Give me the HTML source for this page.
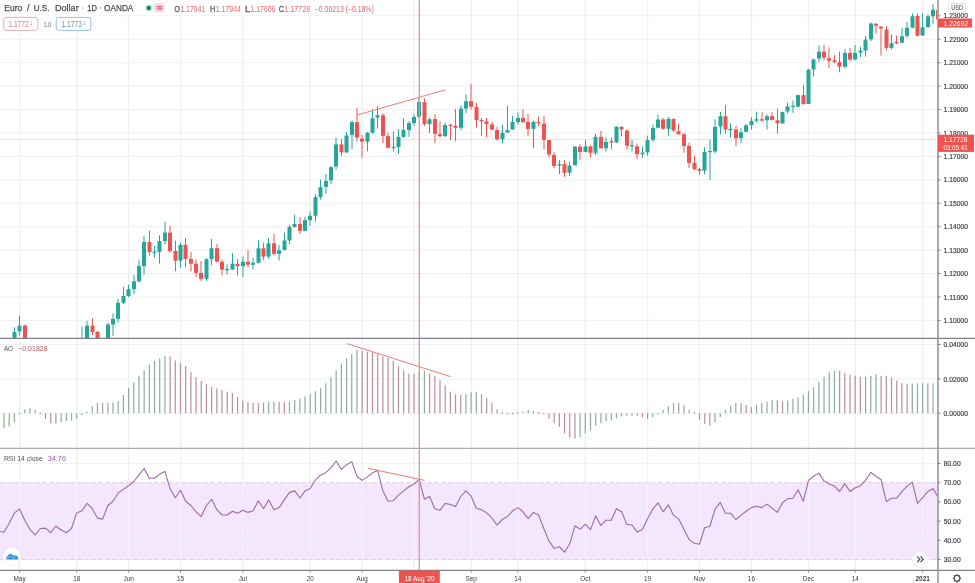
<!DOCTYPE html>
<html><head><meta charset="utf-8"><style>
html,body{margin:0;padding:0;background:#fff;width:975px;height:583px;overflow:hidden}
svg{display:block;font-family:"Liberation Sans",sans-serif;will-change:transform}
</style></head><body>
<svg width="975" height="583" viewBox="0 0 975 583">
<rect width="975" height="583" fill="#ffffff"/>
<defs><clipPath id="cm"><rect x="0" y="0" width="937" height="338"/></clipPath><clipPath id="ca"><rect x="0" y="339" width="937" height="109"/></clipPath><clipPath id="cr"><rect x="0" y="449" width="937" height="121"/></clipPath></defs><line x1="19.6" y1="0" x2="19.6" y2="338" stroke="#eff0f3" stroke-width="1.4"/><line x1="19.6" y1="339" x2="19.6" y2="448" stroke="#eff0f3" stroke-width="1.4"/><line x1="19.6" y1="449" x2="19.6" y2="570" stroke="#eff0f3" stroke-width="1.4"/><line x1="76.69" y1="0" x2="76.69" y2="338" stroke="#eff0f3" stroke-width="1.4"/><line x1="76.69" y1="339" x2="76.69" y2="448" stroke="#eff0f3" stroke-width="1.4"/><line x1="76.69" y1="449" x2="76.69" y2="570" stroke="#eff0f3" stroke-width="1.4"/><line x1="128.59" y1="0" x2="128.59" y2="338" stroke="#eff0f3" stroke-width="1.4"/><line x1="128.59" y1="339" x2="128.59" y2="448" stroke="#eff0f3" stroke-width="1.4"/><line x1="128.59" y1="449" x2="128.59" y2="570" stroke="#eff0f3" stroke-width="1.4"/><line x1="180.49" y1="0" x2="180.49" y2="338" stroke="#eff0f3" stroke-width="1.4"/><line x1="180.49" y1="339" x2="180.49" y2="448" stroke="#eff0f3" stroke-width="1.4"/><line x1="180.49" y1="449" x2="180.49" y2="570" stroke="#eff0f3" stroke-width="1.4"/><line x1="242.77" y1="0" x2="242.77" y2="338" stroke="#eff0f3" stroke-width="1.4"/><line x1="242.77" y1="339" x2="242.77" y2="448" stroke="#eff0f3" stroke-width="1.4"/><line x1="242.77" y1="449" x2="242.77" y2="570" stroke="#eff0f3" stroke-width="1.4"/><line x1="310.24" y1="0" x2="310.24" y2="338" stroke="#eff0f3" stroke-width="1.4"/><line x1="310.24" y1="339" x2="310.24" y2="448" stroke="#eff0f3" stroke-width="1.4"/><line x1="310.24" y1="449" x2="310.24" y2="570" stroke="#eff0f3" stroke-width="1.4"/><line x1="362.14" y1="0" x2="362.14" y2="338" stroke="#eff0f3" stroke-width="1.4"/><line x1="362.14" y1="339" x2="362.14" y2="448" stroke="#eff0f3" stroke-width="1.4"/><line x1="362.14" y1="449" x2="362.14" y2="570" stroke="#eff0f3" stroke-width="1.4"/><line x1="414.04" y1="0" x2="414.04" y2="338" stroke="#eff0f3" stroke-width="1.4"/><line x1="414.04" y1="339" x2="414.04" y2="448" stroke="#eff0f3" stroke-width="1.4"/><line x1="414.04" y1="449" x2="414.04" y2="570" stroke="#eff0f3" stroke-width="1.4"/><line x1="471.13" y1="0" x2="471.13" y2="338" stroke="#eff0f3" stroke-width="1.4"/><line x1="471.13" y1="339" x2="471.13" y2="448" stroke="#eff0f3" stroke-width="1.4"/><line x1="471.13" y1="449" x2="471.13" y2="570" stroke="#eff0f3" stroke-width="1.4"/><line x1="517.84" y1="0" x2="517.84" y2="338" stroke="#eff0f3" stroke-width="1.4"/><line x1="517.84" y1="339" x2="517.84" y2="448" stroke="#eff0f3" stroke-width="1.4"/><line x1="517.84" y1="449" x2="517.84" y2="570" stroke="#eff0f3" stroke-width="1.4"/><line x1="585.31" y1="0" x2="585.31" y2="338" stroke="#eff0f3" stroke-width="1.4"/><line x1="585.31" y1="339" x2="585.31" y2="448" stroke="#eff0f3" stroke-width="1.4"/><line x1="585.31" y1="449" x2="585.31" y2="570" stroke="#eff0f3" stroke-width="1.4"/><line x1="647.59" y1="0" x2="647.59" y2="338" stroke="#eff0f3" stroke-width="1.4"/><line x1="647.59" y1="339" x2="647.59" y2="448" stroke="#eff0f3" stroke-width="1.4"/><line x1="647.59" y1="449" x2="647.59" y2="570" stroke="#eff0f3" stroke-width="1.4"/><line x1="699.49" y1="0" x2="699.49" y2="338" stroke="#eff0f3" stroke-width="1.4"/><line x1="699.49" y1="339" x2="699.49" y2="448" stroke="#eff0f3" stroke-width="1.4"/><line x1="699.49" y1="449" x2="699.49" y2="570" stroke="#eff0f3" stroke-width="1.4"/><line x1="751.39" y1="0" x2="751.39" y2="338" stroke="#eff0f3" stroke-width="1.4"/><line x1="751.39" y1="339" x2="751.39" y2="448" stroke="#eff0f3" stroke-width="1.4"/><line x1="751.39" y1="449" x2="751.39" y2="570" stroke="#eff0f3" stroke-width="1.4"/><line x1="808.48" y1="0" x2="808.48" y2="338" stroke="#eff0f3" stroke-width="1.4"/><line x1="808.48" y1="339" x2="808.48" y2="448" stroke="#eff0f3" stroke-width="1.4"/><line x1="808.48" y1="449" x2="808.48" y2="570" stroke="#eff0f3" stroke-width="1.4"/><line x1="855.19" y1="0" x2="855.19" y2="338" stroke="#eff0f3" stroke-width="1.4"/><line x1="855.19" y1="339" x2="855.19" y2="448" stroke="#eff0f3" stroke-width="1.4"/><line x1="855.19" y1="449" x2="855.19" y2="570" stroke="#eff0f3" stroke-width="1.4"/><line x1="922.66" y1="0" x2="922.66" y2="338" stroke="#eff0f3" stroke-width="1.4"/><line x1="922.66" y1="339" x2="922.66" y2="448" stroke="#eff0f3" stroke-width="1.4"/><line x1="922.66" y1="449" x2="922.66" y2="570" stroke="#eff0f3" stroke-width="1.4"/><line x1="0" y1="320.39" x2="937.5" y2="320.39" stroke="#eff0f3" stroke-width="1"/><line x1="0" y1="296.96" x2="937.5" y2="296.96" stroke="#eff0f3" stroke-width="1"/><line x1="0" y1="273.53" x2="937.5" y2="273.53" stroke="#eff0f3" stroke-width="1"/><line x1="0" y1="250.1" x2="937.5" y2="250.1" stroke="#eff0f3" stroke-width="1"/><line x1="0" y1="226.67" x2="937.5" y2="226.67" stroke="#eff0f3" stroke-width="1"/><line x1="0" y1="203.24" x2="937.5" y2="203.24" stroke="#eff0f3" stroke-width="1"/><line x1="0" y1="179.81" x2="937.5" y2="179.81" stroke="#eff0f3" stroke-width="1"/><line x1="0" y1="156.38" x2="937.5" y2="156.38" stroke="#eff0f3" stroke-width="1"/><line x1="0" y1="132.95" x2="937.5" y2="132.95" stroke="#eff0f3" stroke-width="1"/><line x1="0" y1="109.52" x2="937.5" y2="109.52" stroke="#eff0f3" stroke-width="1"/><line x1="0" y1="86.09" x2="937.5" y2="86.09" stroke="#eff0f3" stroke-width="1"/><line x1="0" y1="62.66" x2="937.5" y2="62.66" stroke="#eff0f3" stroke-width="1"/><line x1="0" y1="39.23" x2="937.5" y2="39.23" stroke="#eff0f3" stroke-width="1"/><line x1="0" y1="15.8" x2="937.5" y2="15.8" stroke="#eff0f3" stroke-width="1"/><line x1="0" y1="344.5" x2="937.5" y2="344.5" stroke="#eff0f3" stroke-width="1"/><line x1="0" y1="378.9" x2="937.5" y2="378.9" stroke="#eff0f3" stroke-width="1"/><line x1="0" y1="413.3" x2="937.5" y2="413.3" stroke="#eff0f3" stroke-width="1"/><rect x="0" y="482.7" width="937.5" height="76.8" fill="#f4e6fc"/><line x1="19.6" y1="482.7" x2="19.6" y2="559.5" stroke="#ffffff" stroke-width="1.2" opacity="0.45"/><line x1="76.69" y1="482.7" x2="76.69" y2="559.5" stroke="#ffffff" stroke-width="1.2" opacity="0.45"/><line x1="128.59" y1="482.7" x2="128.59" y2="559.5" stroke="#ffffff" stroke-width="1.2" opacity="0.45"/><line x1="180.49" y1="482.7" x2="180.49" y2="559.5" stroke="#ffffff" stroke-width="1.2" opacity="0.45"/><line x1="242.77" y1="482.7" x2="242.77" y2="559.5" stroke="#ffffff" stroke-width="1.2" opacity="0.45"/><line x1="310.24" y1="482.7" x2="310.24" y2="559.5" stroke="#ffffff" stroke-width="1.2" opacity="0.45"/><line x1="362.14" y1="482.7" x2="362.14" y2="559.5" stroke="#ffffff" stroke-width="1.2" opacity="0.45"/><line x1="414.04" y1="482.7" x2="414.04" y2="559.5" stroke="#ffffff" stroke-width="1.2" opacity="0.45"/><line x1="471.13" y1="482.7" x2="471.13" y2="559.5" stroke="#ffffff" stroke-width="1.2" opacity="0.45"/><line x1="517.84" y1="482.7" x2="517.84" y2="559.5" stroke="#ffffff" stroke-width="1.2" opacity="0.45"/><line x1="585.31" y1="482.7" x2="585.31" y2="559.5" stroke="#ffffff" stroke-width="1.2" opacity="0.45"/><line x1="647.59" y1="482.7" x2="647.59" y2="559.5" stroke="#ffffff" stroke-width="1.2" opacity="0.45"/><line x1="699.49" y1="482.7" x2="699.49" y2="559.5" stroke="#ffffff" stroke-width="1.2" opacity="0.45"/><line x1="751.39" y1="482.7" x2="751.39" y2="559.5" stroke="#ffffff" stroke-width="1.2" opacity="0.45"/><line x1="808.48" y1="482.7" x2="808.48" y2="559.5" stroke="#ffffff" stroke-width="1.2" opacity="0.45"/><line x1="855.19" y1="482.7" x2="855.19" y2="559.5" stroke="#ffffff" stroke-width="1.2" opacity="0.45"/><line x1="922.66" y1="482.7" x2="922.66" y2="559.5" stroke="#ffffff" stroke-width="1.2" opacity="0.45"/><line x1="0" y1="463.5" x2="937.5" y2="463.5" stroke="#eff0f3" stroke-width="1" opacity="0.8"/><line x1="0" y1="501.9" x2="937.5" y2="501.9" stroke="#eff0f3" stroke-width="1" opacity="0.8"/><line x1="0" y1="521.1" x2="937.5" y2="521.1" stroke="#eff0f3" stroke-width="1" opacity="0.8"/><line x1="0" y1="540.3" x2="937.5" y2="540.3" stroke="#eff0f3" stroke-width="1" opacity="0.8"/><line x1="0" y1="482.7" x2="937.5" y2="482.7" stroke="#ddcde3" stroke-width="0.9" stroke-dasharray="5 2"/><line x1="0" y1="559.5" x2="937.5" y2="559.5" stroke="#ddcde3" stroke-width="0.9" stroke-dasharray="5 2"/><line x1="0" y1="139.4" x2="937" y2="139.4" stroke="#f9dcdb" stroke-width="1"/><g clip-path="url(#cm)"><line x1="14.5" y1="327.3" x2="14.5" y2="340" stroke="#26a69a" stroke-width="1"/><rect x="12.5" y="332" width="4" height="8" fill="#26a69a"/><line x1="19.5" y1="315.6" x2="19.5" y2="335.5" stroke="#26a69a" stroke-width="1"/><rect x="17.5" y="325.6" width="4" height="5.8" fill="#26a69a"/><line x1="25" y1="324.5" x2="25" y2="340" stroke="#ef5350" stroke-width="1"/><rect x="23" y="325.6" width="4" height="14.4" fill="#ef5350"/><line x1="82" y1="326.6" x2="82" y2="340" stroke="#26a69a" stroke-width="1"/><rect x="80" y="340" width="4" height="1.2" fill="#26a69a"/><line x1="87" y1="321" x2="87" y2="340" stroke="#26a69a" stroke-width="1"/><rect x="85" y="325.6" width="4" height="14.4" fill="#26a69a"/><line x1="92.5" y1="318.3" x2="92.5" y2="335" stroke="#ef5350" stroke-width="1"/><rect x="90.5" y="325.6" width="4" height="6.4" fill="#ef5350"/><line x1="97.5" y1="331" x2="97.5" y2="340" stroke="#ef5350" stroke-width="1"/><rect x="95.5" y="332" width="4" height="8" fill="#ef5350"/><line x1="108" y1="322.5" x2="108" y2="340" stroke="#26a69a" stroke-width="1"/><rect x="106" y="324.5" width="4" height="15.5" fill="#26a69a"/><line x1="113" y1="313.5" x2="113" y2="336" stroke="#26a69a" stroke-width="1"/><rect x="111" y="318.8" width="4" height="5.7" fill="#26a69a"/><line x1="118" y1="299" x2="118" y2="322.5" stroke="#26a69a" stroke-width="1"/><rect x="116" y="302.8" width="4" height="16" fill="#26a69a"/><line x1="123.5" y1="286.8" x2="123.5" y2="304" stroke="#26a69a" stroke-width="1"/><rect x="121.5" y="296" width="4" height="6.8" fill="#26a69a"/><line x1="128.5" y1="284.7" x2="128.5" y2="297" stroke="#26a69a" stroke-width="1"/><rect x="126.5" y="289.2" width="4" height="6.8" fill="#26a69a"/><line x1="134" y1="275" x2="134" y2="294" stroke="#26a69a" stroke-width="1"/><rect x="132" y="281.3" width="4" height="7.8" fill="#26a69a"/><line x1="139" y1="259.6" x2="139" y2="282.3" stroke="#26a69a" stroke-width="1"/><rect x="137" y="266.1" width="4" height="15.2" fill="#26a69a"/><line x1="144" y1="235.9" x2="144" y2="275" stroke="#26a69a" stroke-width="1"/><rect x="142" y="242" width="4" height="24.1" fill="#26a69a"/><line x1="149.5" y1="230.8" x2="149.5" y2="255.5" stroke="#ef5350" stroke-width="1"/><rect x="147.5" y="242" width="4" height="10" fill="#ef5350"/><line x1="154.5" y1="245.9" x2="154.5" y2="257.6" stroke="#26a69a" stroke-width="1"/><rect x="152.5" y="251.5" width="4" height="1.2" fill="#26a69a"/><line x1="159.5" y1="235.3" x2="159.5" y2="263.7" stroke="#26a69a" stroke-width="1"/><rect x="157.5" y="241.1" width="4" height="10.7" fill="#26a69a"/><line x1="165" y1="221.9" x2="165" y2="244.5" stroke="#26a69a" stroke-width="1"/><rect x="163" y="232.6" width="4" height="8.5" fill="#26a69a"/><line x1="170" y1="226" x2="170" y2="252.7" stroke="#ef5350" stroke-width="1"/><rect x="168" y="232.6" width="4" height="18.4" fill="#ef5350"/><line x1="175.5" y1="240.8" x2="175.5" y2="271.3" stroke="#ef5350" stroke-width="1"/><rect x="173.5" y="251" width="4" height="9.7" fill="#ef5350"/><line x1="180.5" y1="242.5" x2="180.5" y2="267.8" stroke="#26a69a" stroke-width="1"/><rect x="178.5" y="244.9" width="4" height="15.8" fill="#26a69a"/><line x1="185.5" y1="238" x2="185.5" y2="267.2" stroke="#ef5350" stroke-width="1"/><rect x="183.5" y="244.9" width="4" height="14" fill="#ef5350"/><line x1="191" y1="251.8" x2="191" y2="271.3" stroke="#ef5350" stroke-width="1"/><rect x="189" y="258.9" width="4" height="4.8" fill="#ef5350"/><line x1="196" y1="259.6" x2="196" y2="276.8" stroke="#ef5350" stroke-width="1"/><rect x="194" y="263.7" width="4" height="9.2" fill="#ef5350"/><line x1="201" y1="261" x2="201" y2="280.9" stroke="#ef5350" stroke-width="1"/><rect x="199" y="272.9" width="4" height="5.9" fill="#ef5350"/><line x1="206.5" y1="258.2" x2="206.5" y2="280.9" stroke="#26a69a" stroke-width="1"/><rect x="204.5" y="259.2" width="4" height="19.6" fill="#26a69a"/><line x1="211.5" y1="239" x2="211.5" y2="265.1" stroke="#26a69a" stroke-width="1"/><rect x="209.5" y="248.2" width="4" height="11" fill="#26a69a"/><line x1="217" y1="243.8" x2="217" y2="262.4" stroke="#ef5350" stroke-width="1"/><rect x="215" y="248.2" width="4" height="13.5" fill="#ef5350"/><line x1="222" y1="259.6" x2="222" y2="275.4" stroke="#ef5350" stroke-width="1"/><rect x="220" y="261.7" width="4" height="7.9" fill="#ef5350"/><line x1="227" y1="264.4" x2="227" y2="274.7" stroke="#26a69a" stroke-width="1"/><rect x="225" y="269.1" width="4" height="1.2" fill="#26a69a"/><line x1="232.5" y1="253.2" x2="232.5" y2="269.9" stroke="#26a69a" stroke-width="1"/><rect x="230.5" y="263.7" width="4" height="5.9" fill="#26a69a"/><line x1="237.5" y1="259.2" x2="237.5" y2="275.4" stroke="#ef5350" stroke-width="1"/><rect x="235.5" y="263.7" width="4" height="2.4" fill="#ef5350"/><line x1="243" y1="256.4" x2="243" y2="276.8" stroke="#26a69a" stroke-width="1"/><rect x="241" y="261.7" width="4" height="4.4" fill="#26a69a"/><line x1="248" y1="249.8" x2="248" y2="267.4" stroke="#ef5350" stroke-width="1"/><rect x="246" y="261.9" width="4" height="2.7" fill="#ef5350"/><line x1="253" y1="258" x2="253" y2="269.6" stroke="#26a69a" stroke-width="1"/><rect x="251" y="262.8" width="4" height="2" fill="#26a69a"/><line x1="258.5" y1="240.1" x2="258.5" y2="263.4" stroke="#26a69a" stroke-width="1"/><rect x="256.5" y="248.3" width="4" height="14.5" fill="#26a69a"/><line x1="263.5" y1="242.8" x2="263.5" y2="260" stroke="#ef5350" stroke-width="1"/><rect x="261.5" y="248.3" width="4" height="8.3" fill="#ef5350"/><line x1="268.5" y1="238" x2="268.5" y2="258.6" stroke="#26a69a" stroke-width="1"/><rect x="266.5" y="243.3" width="4" height="13.3" fill="#26a69a"/><line x1="274" y1="233.7" x2="274" y2="255.2" stroke="#ef5350" stroke-width="1"/><rect x="272" y="243.3" width="4" height="10.5" fill="#ef5350"/><line x1="279" y1="244.9" x2="279" y2="260.7" stroke="#26a69a" stroke-width="1"/><rect x="277" y="250.4" width="4" height="3.4" fill="#26a69a"/><line x1="284.5" y1="232.6" x2="284.5" y2="250.4" stroke="#26a69a" stroke-width="1"/><rect x="282.5" y="240.5" width="4" height="9.5" fill="#26a69a"/><line x1="289.5" y1="225" x2="289.5" y2="244.2" stroke="#26a69a" stroke-width="1"/><rect x="287.5" y="227.1" width="4" height="13.4" fill="#26a69a"/><line x1="294.5" y1="214.7" x2="294.5" y2="227.7" stroke="#26a69a" stroke-width="1"/><rect x="292.5" y="224" width="4" height="2.8" fill="#26a69a"/><line x1="300" y1="217.2" x2="300" y2="233.9" stroke="#ef5350" stroke-width="1"/><rect x="298" y="224" width="4" height="6.9" fill="#ef5350"/><line x1="305" y1="216.8" x2="305" y2="231.2" stroke="#26a69a" stroke-width="1"/><rect x="303" y="220.2" width="4" height="10.7" fill="#26a69a"/><line x1="310" y1="211.3" x2="310" y2="226" stroke="#26a69a" stroke-width="1"/><rect x="308" y="215.8" width="4" height="4.4" fill="#26a69a"/><line x1="315.5" y1="194.1" x2="315.5" y2="221.6" stroke="#26a69a" stroke-width="1"/><rect x="313.5" y="197.1" width="4" height="18.7" fill="#26a69a"/><line x1="320.5" y1="179.6" x2="320.5" y2="199.7" stroke="#26a69a" stroke-width="1"/><rect x="318.5" y="187.3" width="4" height="9.9" fill="#26a69a"/><line x1="326" y1="174" x2="326" y2="193.7" stroke="#26a69a" stroke-width="1"/><rect x="324" y="181" width="4" height="5.9" fill="#26a69a"/><line x1="331" y1="166" x2="331" y2="184.3" stroke="#26a69a" stroke-width="1"/><rect x="329" y="167.2" width="4" height="13.2" fill="#26a69a"/><line x1="336" y1="137.6" x2="336" y2="169.8" stroke="#26a69a" stroke-width="1"/><rect x="334" y="144.4" width="4" height="22" fill="#26a69a"/><line x1="341.5" y1="139.2" x2="341.5" y2="156.1" stroke="#ef5350" stroke-width="1"/><rect x="339.5" y="144.4" width="4" height="8" fill="#ef5350"/><line x1="346.5" y1="132.1" x2="346.5" y2="152.7" stroke="#26a69a" stroke-width="1"/><rect x="344.5" y="135.5" width="4" height="16.9" fill="#26a69a"/><line x1="352" y1="120.4" x2="352" y2="149.2" stroke="#26a69a" stroke-width="1"/><rect x="350" y="122.2" width="4" height="12.6" fill="#26a69a"/><line x1="357" y1="108" x2="357" y2="141.7" stroke="#ef5350" stroke-width="1"/><rect x="355" y="122.2" width="4" height="15.4" fill="#ef5350"/><line x1="362" y1="134.8" x2="362" y2="157.5" stroke="#ef5350" stroke-width="1"/><rect x="360" y="138.7" width="4" height="3" fill="#ef5350"/><line x1="367.5" y1="132.1" x2="367.5" y2="151.3" stroke="#26a69a" stroke-width="1"/><rect x="365.5" y="132.7" width="4" height="9" fill="#26a69a"/><line x1="372.5" y1="109.4" x2="372.5" y2="134.1" stroke="#26a69a" stroke-width="1"/><rect x="370.5" y="118.3" width="4" height="14.4" fill="#26a69a"/><line x1="377.5" y1="106" x2="377.5" y2="128.6" stroke="#26a69a" stroke-width="1"/><rect x="375.5" y="115.3" width="4" height="2.3" fill="#26a69a"/><line x1="383" y1="113.5" x2="383" y2="143" stroke="#ef5350" stroke-width="1"/><rect x="381" y="115.3" width="4" height="20.6" fill="#ef5350"/><line x1="388" y1="132.7" x2="388" y2="147.8" stroke="#ef5350" stroke-width="1"/><rect x="386" y="136.2" width="4" height="11.6" fill="#ef5350"/><line x1="393.5" y1="131.4" x2="393.5" y2="151.3" stroke="#26a69a" stroke-width="1"/><rect x="391.5" y="146.9" width="4" height="1.2" fill="#26a69a"/><line x1="398.5" y1="129.3" x2="398.5" y2="153.8" stroke="#26a69a" stroke-width="1"/><rect x="396.5" y="136.9" width="4" height="10" fill="#26a69a"/><line x1="403.5" y1="118.3" x2="403.5" y2="137.6" stroke="#26a69a" stroke-width="1"/><rect x="401.5" y="130" width="4" height="6.9" fill="#26a69a"/><line x1="409" y1="121.1" x2="409" y2="136.9" stroke="#26a69a" stroke-width="1"/><rect x="407" y="123.1" width="4" height="6.9" fill="#26a69a"/><line x1="414" y1="114.2" x2="414" y2="125.9" stroke="#26a69a" stroke-width="1"/><rect x="412" y="117" width="4" height="6.1" fill="#26a69a"/><line x1="419" y1="97.1" x2="419" y2="118" stroke="#26a69a" stroke-width="1"/><rect x="417" y="102.1" width="4" height="14.6" fill="#26a69a"/><line x1="424.5" y1="98.4" x2="424.5" y2="125.9" stroke="#ef5350" stroke-width="1"/><rect x="422.5" y="102.1" width="4" height="22" fill="#ef5350"/><line x1="429.5" y1="117.7" x2="429.5" y2="133" stroke="#26a69a" stroke-width="1"/><rect x="427.5" y="119.3" width="4" height="4.8" fill="#26a69a"/><line x1="435" y1="114.1" x2="435" y2="143.3" stroke="#ef5350" stroke-width="1"/><rect x="433" y="119" width="4" height="14.7" fill="#ef5350"/><line x1="440" y1="121.4" x2="440" y2="137.8" stroke="#ef5350" stroke-width="1"/><rect x="438" y="134.1" width="4" height="2" fill="#ef5350"/><line x1="445" y1="122.7" x2="445" y2="137.2" stroke="#26a69a" stroke-width="1"/><rect x="443" y="125.1" width="4" height="11" fill="#26a69a"/><line x1="450.5" y1="124.1" x2="450.5" y2="139.9" stroke="#ef5350" stroke-width="1"/><rect x="448.5" y="124.7" width="4" height="1.2" fill="#ef5350"/><line x1="455.5" y1="109" x2="455.5" y2="141.3" stroke="#ef5350" stroke-width="1"/><rect x="453.5" y="125.9" width="4" height="1.9" fill="#ef5350"/><line x1="461" y1="105.3" x2="461" y2="130.3" stroke="#26a69a" stroke-width="1"/><rect x="459" y="108.6" width="4" height="19.2" fill="#26a69a"/><line x1="466" y1="94.3" x2="466" y2="113.1" stroke="#26a69a" stroke-width="1"/><rect x="464" y="101.2" width="4" height="7.4" fill="#26a69a"/><line x1="471" y1="84" x2="471" y2="109.4" stroke="#ef5350" stroke-width="1"/><rect x="469" y="101.2" width="4" height="5.5" fill="#ef5350"/><line x1="476.5" y1="102.8" x2="476.5" y2="127.6" stroke="#ef5350" stroke-width="1"/><rect x="474.5" y="107" width="4" height="13" fill="#ef5350"/><line x1="481.5" y1="118" x2="481.5" y2="135.8" stroke="#ef5350" stroke-width="1"/><rect x="479.5" y="120" width="4" height="1.2" fill="#ef5350"/><line x1="486.5" y1="118" x2="486.5" y2="137.2" stroke="#ef5350" stroke-width="1"/><rect x="484.5" y="121.4" width="4" height="2.7" fill="#ef5350"/><line x1="492" y1="122" x2="492" y2="130.3" stroke="#ef5350" stroke-width="1"/><rect x="490" y="124.5" width="4" height="5.1" fill="#ef5350"/><line x1="497" y1="126.9" x2="497" y2="140.6" stroke="#ef5350" stroke-width="1"/><rect x="495" y="130" width="4" height="9.2" fill="#ef5350"/><line x1="502.5" y1="124.8" x2="502.5" y2="143.3" stroke="#26a69a" stroke-width="1"/><rect x="500.5" y="132.8" width="4" height="6.4" fill="#26a69a"/><line x1="507.5" y1="105.6" x2="507.5" y2="133" stroke="#26a69a" stroke-width="1"/><rect x="505.5" y="130" width="4" height="2.4" fill="#26a69a"/><line x1="512.5" y1="115.9" x2="512.5" y2="129.6" stroke="#26a69a" stroke-width="1"/><rect x="510.5" y="122" width="4" height="7.6" fill="#26a69a"/><line x1="518" y1="112.5" x2="518" y2="124.8" stroke="#26a69a" stroke-width="1"/><rect x="516" y="117.9" width="4" height="4.1" fill="#26a69a"/><line x1="523" y1="109" x2="523" y2="123.4" stroke="#ef5350" stroke-width="1"/><rect x="521" y="117.9" width="4" height="4.1" fill="#ef5350"/><line x1="528" y1="113.8" x2="528" y2="135.8" stroke="#ef5350" stroke-width="1"/><rect x="526" y="122" width="4" height="6.9" fill="#ef5350"/><line x1="533.5" y1="121" x2="533.5" y2="148.1" stroke="#26a69a" stroke-width="1"/><rect x="531.5" y="121.8" width="4" height="7.1" fill="#26a69a"/><line x1="538.5" y1="116.6" x2="538.5" y2="126.2" stroke="#ef5350" stroke-width="1"/><rect x="536.5" y="121.8" width="4" height="1.4" fill="#ef5350"/><line x1="544" y1="115.9" x2="544" y2="149.5" stroke="#ef5350" stroke-width="1"/><rect x="542" y="123.7" width="4" height="16.2" fill="#ef5350"/><line x1="549" y1="139.9" x2="549" y2="157.7" stroke="#ef5350" stroke-width="1"/><rect x="547" y="140.1" width="4" height="14.5" fill="#ef5350"/><line x1="554" y1="152.2" x2="554" y2="167.9" stroke="#ef5350" stroke-width="1"/><rect x="552" y="154.9" width="4" height="11" fill="#ef5350"/><line x1="559.5" y1="160.1" x2="559.5" y2="174.1" stroke="#26a69a" stroke-width="1"/><rect x="557.5" y="164.2" width="4" height="1.4" fill="#26a69a"/><line x1="564.5" y1="160.4" x2="564.5" y2="176.9" stroke="#ef5350" stroke-width="1"/><rect x="562.5" y="164.2" width="4" height="8.6" fill="#ef5350"/><line x1="569.5" y1="161.5" x2="569.5" y2="176.2" stroke="#26a69a" stroke-width="1"/><rect x="567.5" y="165.6" width="4" height="7.2" fill="#26a69a"/><line x1="575" y1="146" x2="575" y2="165.6" stroke="#26a69a" stroke-width="1"/><rect x="573" y="146.7" width="4" height="18.5" fill="#26a69a"/><line x1="580" y1="144.2" x2="580" y2="159.7" stroke="#ef5350" stroke-width="1"/><rect x="578" y="146.7" width="4" height="5.2" fill="#ef5350"/><line x1="585.5" y1="139.8" x2="585.5" y2="152.2" stroke="#26a69a" stroke-width="1"/><rect x="583.5" y="146.4" width="4" height="5.5" fill="#26a69a"/><line x1="590.5" y1="145.3" x2="590.5" y2="157.4" stroke="#ef5350" stroke-width="1"/><rect x="588.5" y="146.4" width="4" height="6.4" fill="#ef5350"/><line x1="595.5" y1="134" x2="595.5" y2="154.9" stroke="#26a69a" stroke-width="1"/><rect x="593.5" y="136.8" width="4" height="16" fill="#26a69a"/><line x1="601" y1="130.9" x2="601" y2="148.3" stroke="#ef5350" stroke-width="1"/><rect x="599" y="136.8" width="4" height="11.5" fill="#ef5350"/><line x1="606" y1="137.3" x2="606" y2="151.5" stroke="#26a69a" stroke-width="1"/><rect x="604" y="141.9" width="4" height="6.4" fill="#26a69a"/><line x1="611.5" y1="137.7" x2="611.5" y2="149.4" stroke="#ef5350" stroke-width="1"/><rect x="609.5" y="141.2" width="4" height="1.4" fill="#ef5350"/><line x1="616.5" y1="126.1" x2="616.5" y2="143.2" stroke="#26a69a" stroke-width="1"/><rect x="614.5" y="126.8" width="4" height="15.5" fill="#26a69a"/><line x1="621.5" y1="126.1" x2="621.5" y2="136.4" stroke="#ef5350" stroke-width="1"/><rect x="619.5" y="126.8" width="4" height="2.7" fill="#ef5350"/><line x1="627" y1="129.5" x2="627" y2="149.4" stroke="#ef5350" stroke-width="1"/><rect x="625" y="130.5" width="4" height="15.1" fill="#ef5350"/><line x1="632" y1="139.8" x2="632" y2="151.5" stroke="#26a69a" stroke-width="1"/><rect x="630" y="145.1" width="4" height="1.2" fill="#26a69a"/><line x1="637" y1="143.7" x2="637" y2="159.3" stroke="#ef5350" stroke-width="1"/><rect x="635" y="146.4" width="4" height="7.8" fill="#ef5350"/><line x1="642.5" y1="146.4" x2="642.5" y2="157.7" stroke="#26a69a" stroke-width="1"/><rect x="640.5" y="152.6" width="4" height="1.6" fill="#26a69a"/><line x1="647.5" y1="135.7" x2="647.5" y2="155.6" stroke="#26a69a" stroke-width="1"/><rect x="645.5" y="140.1" width="4" height="12.3" fill="#26a69a"/><line x1="653" y1="124.4" x2="653" y2="141.9" stroke="#26a69a" stroke-width="1"/><rect x="651" y="128.1" width="4" height="11.7" fill="#26a69a"/><line x1="658" y1="114.4" x2="658" y2="128.1" stroke="#26a69a" stroke-width="1"/><rect x="656" y="119.5" width="4" height="8.2" fill="#26a69a"/><line x1="663" y1="117.8" x2="663" y2="129.9" stroke="#ef5350" stroke-width="1"/><rect x="661" y="119.5" width="4" height="9.3" fill="#ef5350"/><line x1="668.5" y1="117" x2="668.5" y2="136.2" stroke="#26a69a" stroke-width="1"/><rect x="666.5" y="118.9" width="4" height="9.9" fill="#26a69a"/><line x1="673.5" y1="118.5" x2="673.5" y2="131.8" stroke="#ef5350" stroke-width="1"/><rect x="671.5" y="118.9" width="4" height="11.6" fill="#ef5350"/><line x1="678.5" y1="124" x2="678.5" y2="134.6" stroke="#ef5350" stroke-width="1"/><rect x="676.5" y="131.3" width="4" height="3" fill="#ef5350"/><line x1="684" y1="133" x2="684" y2="152.8" stroke="#ef5350" stroke-width="1"/><rect x="682" y="134.3" width="4" height="11.7" fill="#ef5350"/><line x1="689" y1="142.6" x2="689" y2="167.9" stroke="#ef5350" stroke-width="1"/><rect x="687" y="146" width="4" height="16.9" fill="#ef5350"/><line x1="694.5" y1="155.6" x2="694.5" y2="170.3" stroke="#ef5350" stroke-width="1"/><rect x="692.5" y="162.9" width="4" height="6.4" fill="#ef5350"/><line x1="699.5" y1="168" x2="699.5" y2="174.8" stroke="#ef5350" stroke-width="1"/><rect x="697.5" y="169" width="4" height="1.7" fill="#ef5350"/><line x1="704.5" y1="147.4" x2="704.5" y2="174.1" stroke="#26a69a" stroke-width="1"/><rect x="702.5" y="151.9" width="4" height="18.8" fill="#26a69a"/><line x1="710" y1="139.5" x2="710" y2="180" stroke="#26a69a" stroke-width="1"/><rect x="708" y="151" width="4" height="1.2" fill="#26a69a"/><line x1="715" y1="119.2" x2="715" y2="153.8" stroke="#26a69a" stroke-width="1"/><rect x="713" y="126.8" width="4" height="24.7" fill="#26a69a"/><line x1="720.5" y1="112.1" x2="720.5" y2="134.3" stroke="#26a69a" stroke-width="1"/><rect x="718.5" y="116.2" width="4" height="10.2" fill="#26a69a"/><line x1="725.5" y1="105.2" x2="725.5" y2="133.6" stroke="#ef5350" stroke-width="1"/><rect x="723.5" y="116.2" width="4" height="13.3" fill="#ef5350"/><line x1="730.5" y1="123.3" x2="730.5" y2="137.7" stroke="#26a69a" stroke-width="1"/><rect x="728.5" y="129" width="4" height="1.2" fill="#26a69a"/><line x1="736" y1="125.8" x2="736" y2="146" stroke="#ef5350" stroke-width="1"/><rect x="734" y="129.5" width="4" height="8.7" fill="#ef5350"/><line x1="741" y1="128.1" x2="741" y2="143.2" stroke="#26a69a" stroke-width="1"/><rect x="739" y="132.3" width="4" height="5.9" fill="#26a69a"/><line x1="746" y1="124" x2="746" y2="132.3" stroke="#26a69a" stroke-width="1"/><rect x="744" y="125.4" width="4" height="6.4" fill="#26a69a"/><line x1="751.5" y1="117.2" x2="751.5" y2="129.5" stroke="#26a69a" stroke-width="1"/><rect x="749.5" y="120.9" width="4" height="4.1" fill="#26a69a"/><line x1="756.5" y1="111.7" x2="756.5" y2="122.6" stroke="#26a69a" stroke-width="1"/><rect x="754.5" y="119.2" width="4" height="1.4" fill="#26a69a"/><line x1="762" y1="112.1" x2="762" y2="121.3" stroke="#ef5350" stroke-width="1"/><rect x="760" y="119.2" width="4" height="1.4" fill="#ef5350"/><line x1="767" y1="114.4" x2="767" y2="129.5" stroke="#26a69a" stroke-width="1"/><rect x="765" y="116.2" width="4" height="4.1" fill="#26a69a"/><line x1="772" y1="112.4" x2="772" y2="120.6" stroke="#ef5350" stroke-width="1"/><rect x="770" y="116.2" width="4" height="3.7" fill="#ef5350"/><line x1="777.5" y1="108.5" x2="777.5" y2="133.6" stroke="#ef5350" stroke-width="1"/><rect x="775.5" y="120.3" width="4" height="3" fill="#ef5350"/><line x1="782.5" y1="111.7" x2="782.5" y2="124" stroke="#26a69a" stroke-width="1"/><rect x="780.5" y="112.1" width="4" height="11.2" fill="#26a69a"/><line x1="787.5" y1="102.5" x2="787.5" y2="113.6" stroke="#26a69a" stroke-width="1"/><rect x="785.5" y="106.4" width="4" height="5.1" fill="#26a69a"/><line x1="793" y1="100.5" x2="793" y2="112.8" stroke="#26a69a" stroke-width="1"/><rect x="791" y="105.6" width="4" height="1.2" fill="#26a69a"/><line x1="798" y1="94.6" x2="798" y2="107.5" stroke="#26a69a" stroke-width="1"/><rect x="796" y="95.1" width="4" height="11.5" fill="#26a69a"/><line x1="803.5" y1="85.2" x2="803.5" y2="104.9" stroke="#ef5350" stroke-width="1"/><rect x="801.5" y="95.1" width="4" height="8.9" fill="#ef5350"/><line x1="808.5" y1="68.9" x2="808.5" y2="104" stroke="#26a69a" stroke-width="1"/><rect x="806.5" y="69.7" width="4" height="34.3" fill="#26a69a"/><line x1="813.5" y1="58.6" x2="813.5" y2="76.6" stroke="#26a69a" stroke-width="1"/><rect x="811.5" y="59.5" width="4" height="9.9" fill="#26a69a"/><line x1="819" y1="45.4" x2="819" y2="62" stroke="#26a69a" stroke-width="1"/><rect x="817" y="51.7" width="4" height="6.9" fill="#26a69a"/><line x1="824" y1="44.9" x2="824" y2="60.3" stroke="#ef5350" stroke-width="1"/><rect x="822" y="51.7" width="4" height="6" fill="#ef5350"/><line x1="829" y1="47.4" x2="829" y2="68" stroke="#ef5350" stroke-width="1"/><rect x="827" y="58.1" width="4" height="2.7" fill="#ef5350"/><line x1="834.5" y1="55.2" x2="834.5" y2="63.2" stroke="#ef5350" stroke-width="1"/><rect x="832.5" y="60.3" width="4" height="1.7" fill="#ef5350"/><line x1="839.5" y1="51.7" x2="839.5" y2="72.3" stroke="#ef5350" stroke-width="1"/><rect x="837.5" y="62" width="4" height="4.7" fill="#ef5350"/><line x1="845" y1="49.2" x2="845" y2="68.4" stroke="#26a69a" stroke-width="1"/><rect x="843" y="52.9" width="4" height="13.8" fill="#26a69a"/><line x1="850" y1="48.3" x2="850" y2="61.2" stroke="#ef5350" stroke-width="1"/><rect x="848" y="52.9" width="4" height="6.6" fill="#ef5350"/><line x1="855" y1="44.9" x2="855" y2="60.3" stroke="#26a69a" stroke-width="1"/><rect x="853" y="52.9" width="4" height="6.6" fill="#26a69a"/><line x1="860.5" y1="46.6" x2="860.5" y2="56.9" stroke="#26a69a" stroke-width="1"/><rect x="858.5" y="50.5" width="4" height="2.1" fill="#26a69a"/><line x1="865.5" y1="36" x2="865.5" y2="56.6" stroke="#26a69a" stroke-width="1"/><rect x="863.5" y="39.6" width="4" height="10.9" fill="#26a69a"/><line x1="871" y1="22.7" x2="871" y2="41.2" stroke="#26a69a" stroke-width="1"/><rect x="869" y="23.5" width="4" height="15.8" fill="#26a69a"/><line x1="876" y1="23.2" x2="876" y2="33.5" stroke="#ef5350" stroke-width="1"/><rect x="874" y="23.7" width="4" height="2" fill="#ef5350"/><line x1="881" y1="26.3" x2="881" y2="55.6" stroke="#ef5350" stroke-width="1"/><rect x="879" y="26.6" width="4" height="2" fill="#ef5350"/><line x1="886.5" y1="26.3" x2="886.5" y2="50.5" stroke="#ef5350" stroke-width="1"/><rect x="884.5" y="29.4" width="4" height="18.5" fill="#ef5350"/><line x1="891.5" y1="34.5" x2="891.5" y2="49.4" stroke="#26a69a" stroke-width="1"/><rect x="889.5" y="43.3" width="4" height="4.6" fill="#26a69a"/><line x1="896.5" y1="35.5" x2="896.5" y2="44.3" stroke="#ef5350" stroke-width="1"/><rect x="894.5" y="42" width="4" height="1.3" fill="#ef5350"/><line x1="902" y1="27.6" x2="902" y2="43.3" stroke="#26a69a" stroke-width="1"/><rect x="900" y="36.3" width="4" height="6.4" fill="#26a69a"/><line x1="907" y1="21.6" x2="907" y2="38.1" stroke="#26a69a" stroke-width="1"/><rect x="905" y="27.8" width="4" height="8" fill="#26a69a"/><line x1="912.5" y1="13.4" x2="912.5" y2="28.3" stroke="#26a69a" stroke-width="1"/><rect x="910.5" y="16.3" width="4" height="11.3" fill="#26a69a"/><line x1="917.5" y1="13.4" x2="917.5" y2="36.6" stroke="#ef5350" stroke-width="1"/><rect x="915.5" y="16" width="4" height="19.8" fill="#ef5350"/><line x1="922.5" y1="13.4" x2="922.5" y2="36" stroke="#26a69a" stroke-width="1"/><rect x="920.5" y="27.3" width="4" height="8.2" fill="#26a69a"/><line x1="928" y1="14.4" x2="928" y2="27.8" stroke="#26a69a" stroke-width="1"/><rect x="926" y="16.3" width="4" height="10.7" fill="#26a69a"/><line x1="933" y1="3.9" x2="933" y2="23.7" stroke="#26a69a" stroke-width="1"/><rect x="931" y="9.8" width="4" height="6.5" fill="#26a69a"/><line x1="938" y1="9" x2="938" y2="21" stroke="#ef5350" stroke-width="1"/><rect x="936" y="10" width="4" height="9.5" fill="#ef5350"/></g><g clip-path="url(#ca)"><line x1="4.03" y1="413.3" x2="4.03" y2="428.2" stroke="#8cad97" stroke-width="1.2"/><line x1="9.22" y1="413.3" x2="9.22" y2="426.3" stroke="#8cad97" stroke-width="1.2"/><line x1="14.41" y1="413.3" x2="14.41" y2="422" stroke="#8cad97" stroke-width="1.2"/><line x1="19.6" y1="412.8" x2="19.6" y2="414.5" stroke="#8cad97" stroke-width="1.2"/><line x1="24.79" y1="409.3" x2="24.79" y2="413.3" stroke="#8cad97" stroke-width="1.2"/><line x1="29.98" y1="408.2" x2="29.98" y2="413.3" stroke="#8cad97" stroke-width="1.2"/><line x1="35.17" y1="409.7" x2="35.17" y2="413.3" stroke="#b98f95" stroke-width="1.2"/><line x1="40.36" y1="412.8" x2="40.36" y2="414.3" stroke="#b98f95" stroke-width="1.2"/><line x1="45.55" y1="413.3" x2="45.55" y2="419.1" stroke="#b98f95" stroke-width="1.2"/><line x1="50.74" y1="413.3" x2="50.74" y2="423.3" stroke="#b98f95" stroke-width="1.2"/><line x1="55.93" y1="413.3" x2="55.93" y2="423.8" stroke="#b98f95" stroke-width="1.2"/><line x1="61.12" y1="413.3" x2="61.12" y2="422" stroke="#8cad97" stroke-width="1.2"/><line x1="66.31" y1="413.3" x2="66.31" y2="421" stroke="#8cad97" stroke-width="1.2"/><line x1="71.5" y1="413.3" x2="71.5" y2="420.5" stroke="#8cad97" stroke-width="1.2"/><line x1="76.69" y1="413.3" x2="76.69" y2="418.8" stroke="#8cad97" stroke-width="1.2"/><line x1="81.88" y1="413.3" x2="81.88" y2="415" stroke="#8cad97" stroke-width="1.2"/><line x1="87.07" y1="411.6" x2="87.07" y2="413.3" stroke="#8cad97" stroke-width="1.2"/><line x1="92.26" y1="406.3" x2="92.26" y2="413.3" stroke="#8cad97" stroke-width="1.2"/><line x1="97.45" y1="403.1" x2="97.45" y2="413.3" stroke="#8cad97" stroke-width="1.2"/><line x1="102.64" y1="403.1" x2="102.64" y2="413.3" stroke="#8cad97" stroke-width="1.2"/><line x1="107.83" y1="403.1" x2="107.83" y2="413.3" stroke="#b98f95" stroke-width="1.2"/><line x1="113.02" y1="402.5" x2="113.02" y2="413.3" stroke="#8cad97" stroke-width="1.2"/><line x1="118.21" y1="401.2" x2="118.21" y2="413.3" stroke="#8cad97" stroke-width="1.2"/><line x1="123.4" y1="395" x2="123.4" y2="413.3" stroke="#8cad97" stroke-width="1.2"/><line x1="128.59" y1="388" x2="128.59" y2="413.3" stroke="#8cad97" stroke-width="1.2"/><line x1="133.78" y1="382.3" x2="133.78" y2="413.3" stroke="#8cad97" stroke-width="1.2"/><line x1="138.97" y1="376.1" x2="138.97" y2="413.3" stroke="#8cad97" stroke-width="1.2"/><line x1="144.16" y1="370.5" x2="144.16" y2="413.3" stroke="#8cad97" stroke-width="1.2"/><line x1="149.35" y1="364.4" x2="149.35" y2="413.3" stroke="#8cad97" stroke-width="1.2"/><line x1="154.54" y1="361" x2="154.54" y2="413.3" stroke="#8cad97" stroke-width="1.2"/><line x1="159.73" y1="358.4" x2="159.73" y2="413.3" stroke="#8cad97" stroke-width="1.2"/><line x1="164.92" y1="355.9" x2="164.92" y2="413.3" stroke="#8cad97" stroke-width="1.2"/><line x1="170.11" y1="356.5" x2="170.11" y2="413.3" stroke="#b98f95" stroke-width="1.2"/><line x1="175.3" y1="360.6" x2="175.3" y2="413.3" stroke="#b98f95" stroke-width="1.2"/><line x1="180.49" y1="362.9" x2="180.49" y2="413.3" stroke="#b98f95" stroke-width="1.2"/><line x1="185.68" y1="365.9" x2="185.68" y2="413.3" stroke="#b98f95" stroke-width="1.2"/><line x1="190.87" y1="372" x2="190.87" y2="413.3" stroke="#b98f95" stroke-width="1.2"/><line x1="196.06" y1="377.2" x2="196.06" y2="413.3" stroke="#b98f95" stroke-width="1.2"/><line x1="201.25" y1="381" x2="201.25" y2="413.3" stroke="#b98f95" stroke-width="1.2"/><line x1="206.44" y1="384.2" x2="206.44" y2="413.3" stroke="#b98f95" stroke-width="1.2"/><line x1="211.63" y1="387.1" x2="211.63" y2="413.3" stroke="#b98f95" stroke-width="1.2"/><line x1="216.82" y1="388.6" x2="216.82" y2="413.3" stroke="#b98f95" stroke-width="1.2"/><line x1="222.01" y1="389.9" x2="222.01" y2="413.3" stroke="#b98f95" stroke-width="1.2"/><line x1="227.2" y1="391.8" x2="227.2" y2="413.3" stroke="#b98f95" stroke-width="1.2"/><line x1="232.39" y1="393.1" x2="232.39" y2="413.3" stroke="#b98f95" stroke-width="1.2"/><line x1="237.58" y1="396.9" x2="237.58" y2="413.3" stroke="#b98f95" stroke-width="1.2"/><line x1="242.77" y1="400.6" x2="242.77" y2="413.3" stroke="#b98f95" stroke-width="1.2"/><line x1="247.96" y1="402.2" x2="247.96" y2="413.3" stroke="#b98f95" stroke-width="1.2"/><line x1="253.15" y1="403.1" x2="253.15" y2="413.3" stroke="#b98f95" stroke-width="1.2"/><line x1="258.34" y1="403.1" x2="258.34" y2="413.3" stroke="#b98f95" stroke-width="1.2"/><line x1="263.53" y1="402.5" x2="263.53" y2="413.3" stroke="#8cad97" stroke-width="1.2"/><line x1="268.72" y1="401.8" x2="268.72" y2="413.3" stroke="#8cad97" stroke-width="1.2"/><line x1="273.91" y1="401.8" x2="273.91" y2="413.3" stroke="#8cad97" stroke-width="1.2"/><line x1="279.1" y1="401.8" x2="279.1" y2="413.3" stroke="#b98f95" stroke-width="1.2"/><line x1="284.29" y1="402.2" x2="284.29" y2="413.3" stroke="#b98f95" stroke-width="1.2"/><line x1="289.48" y1="401.8" x2="289.48" y2="413.3" stroke="#8cad97" stroke-width="1.2"/><line x1="294.67" y1="399.9" x2="294.67" y2="413.3" stroke="#8cad97" stroke-width="1.2"/><line x1="299.86" y1="398.8" x2="299.86" y2="413.3" stroke="#8cad97" stroke-width="1.2"/><line x1="305.05" y1="396.1" x2="305.05" y2="413.3" stroke="#8cad97" stroke-width="1.2"/><line x1="310.24" y1="393.7" x2="310.24" y2="413.3" stroke="#8cad97" stroke-width="1.2"/><line x1="315.43" y1="391.2" x2="315.43" y2="413.3" stroke="#8cad97" stroke-width="1.2"/><line x1="320.62" y1="388" x2="320.62" y2="413.3" stroke="#8cad97" stroke-width="1.2"/><line x1="325.81" y1="383.3" x2="325.81" y2="413.3" stroke="#8cad97" stroke-width="1.2"/><line x1="331" y1="377.6" x2="331" y2="413.3" stroke="#8cad97" stroke-width="1.2"/><line x1="336.19" y1="370.5" x2="336.19" y2="413.3" stroke="#8cad97" stroke-width="1.2"/><line x1="341.38" y1="363.5" x2="341.38" y2="413.3" stroke="#8cad97" stroke-width="1.2"/><line x1="346.57" y1="358.4" x2="346.57" y2="413.3" stroke="#8cad97" stroke-width="1.2"/><line x1="351.76" y1="354" x2="351.76" y2="413.3" stroke="#8cad97" stroke-width="1.2"/><line x1="356.95" y1="349.7" x2="356.95" y2="413.3" stroke="#8cad97" stroke-width="1.2"/><line x1="362.14" y1="350.8" x2="362.14" y2="413.3" stroke="#b98f95" stroke-width="1.2"/><line x1="367.33" y1="351.6" x2="367.33" y2="413.3" stroke="#b98f95" stroke-width="1.2"/><line x1="372.52" y1="352.2" x2="372.52" y2="413.3" stroke="#b98f95" stroke-width="1.2"/><line x1="377.71" y1="353.1" x2="377.71" y2="413.3" stroke="#b98f95" stroke-width="1.2"/><line x1="382.9" y1="356.5" x2="382.9" y2="413.3" stroke="#b98f95" stroke-width="1.2"/><line x1="388.09" y1="357.8" x2="388.09" y2="413.3" stroke="#b98f95" stroke-width="1.2"/><line x1="393.28" y1="360.6" x2="393.28" y2="413.3" stroke="#b98f95" stroke-width="1.2"/><line x1="398.47" y1="365.9" x2="398.47" y2="413.3" stroke="#b98f95" stroke-width="1.2"/><line x1="403.66" y1="370.5" x2="403.66" y2="413.3" stroke="#b98f95" stroke-width="1.2"/><line x1="408.85" y1="373.5" x2="408.85" y2="413.3" stroke="#b98f95" stroke-width="1.2"/><line x1="414.04" y1="373.8" x2="414.04" y2="413.3" stroke="#b98f95" stroke-width="1.2"/><line x1="419.23" y1="372" x2="419.23" y2="413.3" stroke="#8cad97" stroke-width="1.2"/><line x1="424.42" y1="371" x2="424.42" y2="413.3" stroke="#8cad97" stroke-width="1.2"/><line x1="429.61" y1="373.5" x2="429.61" y2="413.3" stroke="#b98f95" stroke-width="1.2"/><line x1="434.8" y1="375.7" x2="434.8" y2="413.3" stroke="#b98f95" stroke-width="1.2"/><line x1="439.99" y1="379.9" x2="439.99" y2="413.3" stroke="#b98f95" stroke-width="1.2"/><line x1="445.18" y1="385.5" x2="445.18" y2="413.3" stroke="#b98f95" stroke-width="1.2"/><line x1="450.37" y1="391.8" x2="450.37" y2="413.3" stroke="#b98f95" stroke-width="1.2"/><line x1="455.56" y1="394.2" x2="455.56" y2="413.3" stroke="#b98f95" stroke-width="1.2"/><line x1="460.75" y1="395" x2="460.75" y2="413.3" stroke="#b98f95" stroke-width="1.2"/><line x1="465.94" y1="394.2" x2="465.94" y2="413.3" stroke="#8cad97" stroke-width="1.2"/><line x1="471.13" y1="392.3" x2="471.13" y2="413.3" stroke="#8cad97" stroke-width="1.2"/><line x1="476.32" y1="391.8" x2="476.32" y2="413.3" stroke="#8cad97" stroke-width="1.2"/><line x1="481.51" y1="394.2" x2="481.51" y2="413.3" stroke="#b98f95" stroke-width="1.2"/><line x1="486.7" y1="398" x2="486.7" y2="413.3" stroke="#b98f95" stroke-width="1.2"/><line x1="491.89" y1="403.1" x2="491.89" y2="413.3" stroke="#b98f95" stroke-width="1.2"/><line x1="497.08" y1="409.3" x2="497.08" y2="413.3" stroke="#b98f95" stroke-width="1.2"/><line x1="502.27" y1="412.1" x2="502.27" y2="413.8" stroke="#b98f95" stroke-width="1.2"/><line x1="507.46" y1="412.8" x2="507.46" y2="414.4" stroke="#8cad97" stroke-width="1.2"/><line x1="512.65" y1="412.8" x2="512.65" y2="414.4" stroke="#8cad97" stroke-width="1.2"/><line x1="517.84" y1="412.3" x2="517.84" y2="413.8" stroke="#8cad97" stroke-width="1.2"/><line x1="523.03" y1="411.6" x2="523.03" y2="413.3" stroke="#8cad97" stroke-width="1.2"/><line x1="528.22" y1="410.1" x2="528.22" y2="413.3" stroke="#8cad97" stroke-width="1.2"/><line x1="533.41" y1="411.2" x2="533.41" y2="413.3" stroke="#b98f95" stroke-width="1.2"/><line x1="538.6" y1="412" x2="538.6" y2="413.8" stroke="#b98f95" stroke-width="1.2"/><line x1="543.79" y1="413.3" x2="543.79" y2="414.4" stroke="#b98f95" stroke-width="1.2"/><line x1="548.98" y1="413.3" x2="548.98" y2="419.1" stroke="#b98f95" stroke-width="1.2"/><line x1="554.17" y1="413.3" x2="554.17" y2="423.3" stroke="#b98f95" stroke-width="1.2"/><line x1="559.36" y1="413.3" x2="559.36" y2="426.7" stroke="#b98f95" stroke-width="1.2"/><line x1="564.55" y1="413.3" x2="564.55" y2="433.3" stroke="#b98f95" stroke-width="1.2"/><line x1="569.74" y1="413.3" x2="569.74" y2="437.6" stroke="#b98f95" stroke-width="1.2"/><line x1="574.93" y1="413.3" x2="574.93" y2="438.4" stroke="#b98f95" stroke-width="1.2"/><line x1="580.12" y1="413.3" x2="580.12" y2="437.1" stroke="#8cad97" stroke-width="1.2"/><line x1="585.31" y1="413.3" x2="585.31" y2="433.3" stroke="#8cad97" stroke-width="1.2"/><line x1="590.5" y1="413.3" x2="590.5" y2="430.5" stroke="#8cad97" stroke-width="1.2"/><line x1="595.69" y1="413.3" x2="595.69" y2="425.7" stroke="#8cad97" stroke-width="1.2"/><line x1="600.88" y1="413.3" x2="600.88" y2="423.3" stroke="#8cad97" stroke-width="1.2"/><line x1="606.07" y1="413.3" x2="606.07" y2="421" stroke="#8cad97" stroke-width="1.2"/><line x1="611.26" y1="413.3" x2="611.26" y2="420.6" stroke="#8cad97" stroke-width="1.2"/><line x1="616.45" y1="413.3" x2="616.45" y2="418.2" stroke="#8cad97" stroke-width="1.2"/><line x1="621.64" y1="413.3" x2="621.64" y2="416.3" stroke="#8cad97" stroke-width="1.2"/><line x1="626.83" y1="413.3" x2="626.83" y2="415.7" stroke="#8cad97" stroke-width="1.2"/><line x1="632.02" y1="413.3" x2="632.02" y2="415.7" stroke="#8cad97" stroke-width="1.2"/><line x1="637.21" y1="413.3" x2="637.21" y2="415.7" stroke="#b98f95" stroke-width="1.2"/><line x1="642.4" y1="413.3" x2="642.4" y2="417.6" stroke="#b98f95" stroke-width="1.2"/><line x1="647.59" y1="413.3" x2="647.59" y2="418.8" stroke="#b98f95" stroke-width="1.2"/><line x1="652.78" y1="413.3" x2="652.78" y2="417.2" stroke="#8cad97" stroke-width="1.2"/><line x1="657.97" y1="412.8" x2="657.97" y2="414.5" stroke="#8cad97" stroke-width="1.2"/><line x1="663.16" y1="410.1" x2="663.16" y2="413.3" stroke="#8cad97" stroke-width="1.2"/><line x1="668.35" y1="406.3" x2="668.35" y2="413.3" stroke="#8cad97" stroke-width="1.2"/><line x1="673.54" y1="403.1" x2="673.54" y2="413.3" stroke="#8cad97" stroke-width="1.2"/><line x1="678.73" y1="403.1" x2="678.73" y2="413.3" stroke="#8cad97" stroke-width="1.2"/><line x1="683.92" y1="405.5" x2="683.92" y2="413.3" stroke="#b98f95" stroke-width="1.2"/><line x1="689.11" y1="409.7" x2="689.11" y2="413.3" stroke="#b98f95" stroke-width="1.2"/><line x1="694.3" y1="412.3" x2="694.3" y2="413.8" stroke="#b98f95" stroke-width="1.2"/><line x1="699.49" y1="413.3" x2="699.49" y2="420.1" stroke="#b98f95" stroke-width="1.2"/><line x1="704.68" y1="413.3" x2="704.68" y2="423.8" stroke="#b98f95" stroke-width="1.2"/><line x1="709.87" y1="413.3" x2="709.87" y2="425.7" stroke="#b98f95" stroke-width="1.2"/><line x1="715.06" y1="413.3" x2="715.06" y2="422.5" stroke="#8cad97" stroke-width="1.2"/><line x1="720.25" y1="413.3" x2="720.25" y2="416.9" stroke="#8cad97" stroke-width="1.2"/><line x1="725.44" y1="409.7" x2="725.44" y2="413.3" stroke="#8cad97" stroke-width="1.2"/><line x1="730.63" y1="405.9" x2="730.63" y2="413.3" stroke="#8cad97" stroke-width="1.2"/><line x1="735.82" y1="403.1" x2="735.82" y2="413.3" stroke="#8cad97" stroke-width="1.2"/><line x1="741.01" y1="403.1" x2="741.01" y2="413.3" stroke="#b98f95" stroke-width="1.2"/><line x1="746.2" y1="405" x2="746.2" y2="413.3" stroke="#b98f95" stroke-width="1.2"/><line x1="751.39" y1="406.9" x2="751.39" y2="413.3" stroke="#b98f95" stroke-width="1.2"/><line x1="756.58" y1="405" x2="756.58" y2="413.3" stroke="#8cad97" stroke-width="1.2"/><line x1="761.77" y1="403.1" x2="761.77" y2="413.3" stroke="#8cad97" stroke-width="1.2"/><line x1="766.96" y1="401.8" x2="766.96" y2="413.3" stroke="#8cad97" stroke-width="1.2"/><line x1="772.15" y1="400.3" x2="772.15" y2="413.3" stroke="#8cad97" stroke-width="1.2"/><line x1="777.34" y1="400.3" x2="777.34" y2="413.3" stroke="#b98f95" stroke-width="1.2"/><line x1="782.53" y1="401.2" x2="782.53" y2="413.3" stroke="#b98f95" stroke-width="1.2"/><line x1="787.72" y1="400.6" x2="787.72" y2="413.3" stroke="#8cad97" stroke-width="1.2"/><line x1="792.91" y1="398.8" x2="792.91" y2="413.3" stroke="#8cad97" stroke-width="1.2"/><line x1="798.1" y1="397.4" x2="798.1" y2="413.3" stroke="#8cad97" stroke-width="1.2"/><line x1="803.29" y1="394.6" x2="803.29" y2="413.3" stroke="#8cad97" stroke-width="1.2"/><line x1="808.48" y1="391.2" x2="808.48" y2="413.3" stroke="#8cad97" stroke-width="1.2"/><line x1="813.67" y1="387.4" x2="813.67" y2="413.3" stroke="#8cad97" stroke-width="1.2"/><line x1="818.86" y1="381.8" x2="818.86" y2="413.3" stroke="#8cad97" stroke-width="1.2"/><line x1="824.05" y1="376.7" x2="824.05" y2="413.3" stroke="#8cad97" stroke-width="1.2"/><line x1="829.24" y1="372.3" x2="829.24" y2="413.3" stroke="#8cad97" stroke-width="1.2"/><line x1="834.43" y1="370.5" x2="834.43" y2="413.3" stroke="#8cad97" stroke-width="1.2"/><line x1="839.62" y1="371" x2="839.62" y2="413.3" stroke="#b98f95" stroke-width="1.2"/><line x1="844.81" y1="372.9" x2="844.81" y2="413.3" stroke="#b98f95" stroke-width="1.2"/><line x1="850" y1="374.8" x2="850" y2="413.3" stroke="#b98f95" stroke-width="1.2"/><line x1="855.19" y1="375.7" x2="855.19" y2="413.3" stroke="#b98f95" stroke-width="1.2"/><line x1="860.38" y1="376.7" x2="860.38" y2="413.3" stroke="#b98f95" stroke-width="1.2"/><line x1="865.57" y1="376.7" x2="865.57" y2="413.3" stroke="#b98f95" stroke-width="1.2"/><line x1="870.76" y1="375.7" x2="870.76" y2="413.3" stroke="#8cad97" stroke-width="1.2"/><line x1="875.95" y1="374.2" x2="875.95" y2="413.3" stroke="#8cad97" stroke-width="1.2"/><line x1="881.14" y1="375.7" x2="881.14" y2="413.3" stroke="#b98f95" stroke-width="1.2"/><line x1="886.33" y1="376.1" x2="886.33" y2="413.3" stroke="#b98f95" stroke-width="1.2"/><line x1="891.52" y1="377.6" x2="891.52" y2="413.3" stroke="#b98f95" stroke-width="1.2"/><line x1="896.71" y1="380.5" x2="896.71" y2="413.3" stroke="#b98f95" stroke-width="1.2"/><line x1="901.9" y1="383.3" x2="901.9" y2="413.3" stroke="#b98f95" stroke-width="1.2"/><line x1="907.09" y1="383.7" x2="907.09" y2="413.3" stroke="#b98f95" stroke-width="1.2"/><line x1="912.28" y1="383.6" x2="912.28" y2="413.3" stroke="#8cad97" stroke-width="1.2"/><line x1="917.47" y1="383.6" x2="917.47" y2="413.3" stroke="#8cad97" stroke-width="1.2"/><line x1="922.66" y1="383.6" x2="922.66" y2="413.3" stroke="#8cad97" stroke-width="1.2"/><line x1="927.85" y1="383.6" x2="927.85" y2="413.3" stroke="#b98f95" stroke-width="1.2"/><line x1="933.04" y1="383.6" x2="933.04" y2="413.3" stroke="#8cad97" stroke-width="1.2"/></g><g clip-path="url(#cr)"><polyline points="-1.16,531.3 4.03,532.3 9.22,523.3 14.41,512.9 19.6,509.1 24.79,520.2 29.98,529.6 35.17,534.8 40.36,528.5 45.55,528.1 50.74,532.7 55.93,526 61.12,530 66.31,532.7 71.5,528.5 76.69,512.9 81.88,510.8 87.07,503.4 92.26,508.7 97.45,518.1 102.64,519.1 107.83,505.5 113.02,501.3 118.21,493 123.4,489.4 128.59,485.7 133.78,481.5 138.97,474.8 144.16,468.5 149.35,478.3 154.54,478.3 159.73,474.1 164.92,471.4 170.11,488.8 175.3,497.8 180.49,490.3 185.68,501.3 190.87,505.5 196.06,511.8 201.25,516.6 206.44,505.5 211.63,499.3 216.82,509.7 222.01,515 227.2,515 232.39,511.2 237.58,513.3 242.77,510.3 247.96,512.4 253.15,510.8 258.34,500.7 263.53,508.7 268.72,499.9 273.91,509.7 279.1,507.6 284.29,499.9 289.48,492.4 294.67,490.9 299.86,498 305.05,490.9 310.24,488.5 315.43,479.8 320.62,475.2 325.81,472.7 331,467.9 336.19,461 341.38,469.3 346.57,464.7 351.76,461.6 356.95,476.2 362.14,480.4 367.33,476.9 372.52,472.7 377.71,470.6 382.9,490.9 388.09,501.3 393.28,500.7 398.47,495.1 403.66,490.9 408.85,486.7 414.04,484 419.23,479.4 424.42,499.3 429.61,496.5 434.8,508.7 439.99,510.3 445.18,503.4 450.37,504.5 455.56,506.4 460.75,496.5 465.94,490.9 471.13,496.1 476.32,508.3 481.51,509.7 486.7,512.9 491.89,518.1 497.08,525 502.27,519.5 507.46,516.6 512.65,510.8 517.84,507.6 523.03,511.8 528.22,518.7 533.41,512.4 538.6,514.9 543.79,528.5 548.98,541.1 554.17,548.4 559.36,546.7 564.55,552.2 569.74,543.8 574.93,525.8 580.12,529.2 585.31,524.4 590.5,529.6 595.69,516 600.88,525.4 606.07,520.2 611.26,520.2 616.45,508.7 621.64,511.8 626.83,524.4 632.02,525 637.21,532.1 642.4,529.6 647.59,518.7 652.78,509.1 657.97,502.8 663.16,511.8 668.35,504.9 673.54,515.4 678.73,519.1 683.92,529.2 689.11,539.6 694.3,543.2 699.49,544.2 704.68,527.5 709.87,526.5 715.06,509.1 720.25,502.4 725.44,513.3 730.63,513.3 735.82,519.5 741.01,515.4 746.2,511.2 751.39,507.6 756.58,506.2 761.77,507.6 766.96,504.1 772.15,508.3 777.34,512.4 782.53,502.8 787.72,498.6 792.91,498.2 798.1,489.8 803.29,501.3 808.48,480.4 813.67,476.2 818.86,473.1 824.05,481.1 829.24,484 834.43,486.1 839.62,491.5 844.81,483.6 850,491.5 855.19,487.7 860.38,485.7 865.57,480.4 870.76,472.5 875.95,476.2 881.14,479.8 886.33,501.6 891.52,498.2 896.71,498.2 901.9,491.7 907.09,486.1 912.28,482.2 917.47,503.3 922.66,497.6 927.85,491.5 933.04,488.6 938.23,497.6" fill="none" stroke="#9c6aa8" stroke-width="1.1" stroke-linejoin="round"/></g><line x1="357.7" y1="114.9" x2="445.3" y2="89.8" stroke="#f07a72" stroke-width="1"/><line x1="347.2" y1="343.7" x2="450.6" y2="376.7" stroke="#f07a72" stroke-width="1"/><line x1="368" y1="468.3" x2="424.5" y2="480.4" stroke="#f07a72" stroke-width="1"/><line x1="419.3" y1="0" x2="419.3" y2="570" stroke="#dc9599" stroke-width="1.3"/><line x1="0" y1="338.3" x2="975" y2="338.3" stroke="#7d8088" stroke-width="1.3"/><line x1="0" y1="448.4" x2="975" y2="448.4" stroke="#a9acb1" stroke-width="1.1"/><line x1="0" y1="570.3" x2="975" y2="570.3" stroke="#7d8088" stroke-width="1.3"/><line x1="938" y1="0" x2="938" y2="583" stroke="#8e9197" stroke-width="1.5"/><line x1="937.5" y1="320.39" x2="940.5" y2="320.39" stroke="#7d8088" stroke-width="1"/><text x="943.6" y="322.99" fill="#3a3d44" font-size="7.0" textLength="24.3" lengthAdjust="spacingAndGlyphs" stroke="#3a3d44" stroke-width="0.18">1.10000</text><line x1="937.5" y1="296.96" x2="940.5" y2="296.96" stroke="#7d8088" stroke-width="1"/><text x="943.6" y="299.56" fill="#3a3d44" font-size="7.0" textLength="24.3" lengthAdjust="spacingAndGlyphs" stroke="#3a3d44" stroke-width="0.18">1.11000</text><line x1="937.5" y1="273.53" x2="940.5" y2="273.53" stroke="#7d8088" stroke-width="1"/><text x="943.6" y="276.13" fill="#3a3d44" font-size="7.0" textLength="24.3" lengthAdjust="spacingAndGlyphs" stroke="#3a3d44" stroke-width="0.18">1.12000</text><line x1="937.5" y1="250.1" x2="940.5" y2="250.1" stroke="#7d8088" stroke-width="1"/><text x="943.6" y="252.7" fill="#3a3d44" font-size="7.0" textLength="24.3" lengthAdjust="spacingAndGlyphs" stroke="#3a3d44" stroke-width="0.18">1.13000</text><line x1="937.5" y1="226.67" x2="940.5" y2="226.67" stroke="#7d8088" stroke-width="1"/><text x="943.6" y="229.27" fill="#3a3d44" font-size="7.0" textLength="24.3" lengthAdjust="spacingAndGlyphs" stroke="#3a3d44" stroke-width="0.18">1.14000</text><line x1="937.5" y1="203.24" x2="940.5" y2="203.24" stroke="#7d8088" stroke-width="1"/><text x="943.6" y="205.84" fill="#3a3d44" font-size="7.0" textLength="24.3" lengthAdjust="spacingAndGlyphs" stroke="#3a3d44" stroke-width="0.18">1.15000</text><line x1="937.5" y1="179.81" x2="940.5" y2="179.81" stroke="#7d8088" stroke-width="1"/><text x="943.6" y="182.41" fill="#3a3d44" font-size="7.0" textLength="24.3" lengthAdjust="spacingAndGlyphs" stroke="#3a3d44" stroke-width="0.18">1.16000</text><line x1="937.5" y1="156.38" x2="940.5" y2="156.38" stroke="#7d8088" stroke-width="1"/><text x="943.6" y="158.98" fill="#3a3d44" font-size="7.0" textLength="24.3" lengthAdjust="spacingAndGlyphs" stroke="#3a3d44" stroke-width="0.18">1.17000</text><line x1="937.5" y1="132.95" x2="940.5" y2="132.95" stroke="#7d8088" stroke-width="1"/><text x="943.6" y="135.55" fill="#3a3d44" font-size="7.0" textLength="24.3" lengthAdjust="spacingAndGlyphs" stroke="#3a3d44" stroke-width="0.18">1.18000</text><line x1="937.5" y1="109.52" x2="940.5" y2="109.52" stroke="#7d8088" stroke-width="1"/><text x="943.6" y="112.12" fill="#3a3d44" font-size="7.0" textLength="24.3" lengthAdjust="spacingAndGlyphs" stroke="#3a3d44" stroke-width="0.18">1.19000</text><line x1="937.5" y1="86.09" x2="940.5" y2="86.09" stroke="#7d8088" stroke-width="1"/><text x="943.6" y="88.69" fill="#3a3d44" font-size="7.0" textLength="24.3" lengthAdjust="spacingAndGlyphs" stroke="#3a3d44" stroke-width="0.18">1.20000</text><line x1="937.5" y1="62.66" x2="940.5" y2="62.66" stroke="#7d8088" stroke-width="1"/><text x="943.6" y="65.26" fill="#3a3d44" font-size="7.0" textLength="24.3" lengthAdjust="spacingAndGlyphs" stroke="#3a3d44" stroke-width="0.18">1.21000</text><line x1="937.5" y1="39.23" x2="940.5" y2="39.23" stroke="#7d8088" stroke-width="1"/><text x="943.6" y="41.83" fill="#3a3d44" font-size="7.0" textLength="24.3" lengthAdjust="spacingAndGlyphs" stroke="#3a3d44" stroke-width="0.18">1.22000</text><line x1="937.5" y1="15.8" x2="940.5" y2="15.8" stroke="#7d8088" stroke-width="1"/><text x="943.6" y="18.4" fill="#3a3d44" font-size="7.0" textLength="24.3" lengthAdjust="spacingAndGlyphs" stroke="#3a3d44" stroke-width="0.18">1.23000</text><line x1="937.5" y1="344.5" x2="940.5" y2="344.5" stroke="#7d8088" stroke-width="1"/><text x="943.6" y="347.1" fill="#3a3d44" font-size="7.0" textLength="24.3" lengthAdjust="spacingAndGlyphs" stroke="#3a3d44" stroke-width="0.18">0.04000</text><line x1="937.5" y1="378.9" x2="940.5" y2="378.9" stroke="#7d8088" stroke-width="1"/><text x="943.6" y="381.5" fill="#3a3d44" font-size="7.0" textLength="24.3" lengthAdjust="spacingAndGlyphs" stroke="#3a3d44" stroke-width="0.18">0.02000</text><line x1="937.5" y1="413.3" x2="940.5" y2="413.3" stroke="#7d8088" stroke-width="1"/><text x="943.6" y="415.9" fill="#3a3d44" font-size="7.0" textLength="24.3" lengthAdjust="spacingAndGlyphs" stroke="#3a3d44" stroke-width="0.18">0.00000</text><line x1="937.5" y1="463.5" x2="940.5" y2="463.5" stroke="#7d8088" stroke-width="1"/><text x="943.7" y="466" fill="#3a3d44" font-size="7.0" textLength="17" lengthAdjust="spacingAndGlyphs" stroke="#3a3d44" stroke-width="0.18">80.00</text><line x1="937.5" y1="482.7" x2="940.5" y2="482.7" stroke="#7d8088" stroke-width="1"/><text x="943.7" y="485.2" fill="#3a3d44" font-size="7.0" textLength="17" lengthAdjust="spacingAndGlyphs" stroke="#3a3d44" stroke-width="0.18">70.00</text><line x1="937.5" y1="501.9" x2="940.5" y2="501.9" stroke="#7d8088" stroke-width="1"/><text x="943.7" y="504.4" fill="#3a3d44" font-size="7.0" textLength="17" lengthAdjust="spacingAndGlyphs" stroke="#3a3d44" stroke-width="0.18">60.00</text><line x1="937.5" y1="521.1" x2="940.5" y2="521.1" stroke="#7d8088" stroke-width="1"/><text x="943.7" y="523.6" fill="#3a3d44" font-size="7.0" textLength="17" lengthAdjust="spacingAndGlyphs" stroke="#3a3d44" stroke-width="0.18">50.00</text><line x1="937.5" y1="540.3" x2="940.5" y2="540.3" stroke="#7d8088" stroke-width="1"/><text x="943.7" y="542.8" fill="#3a3d44" font-size="7.0" textLength="17" lengthAdjust="spacingAndGlyphs" stroke="#3a3d44" stroke-width="0.18">40.00</text><line x1="937.5" y1="559.5" x2="940.5" y2="559.5" stroke="#7d8088" stroke-width="1"/><text x="943.7" y="562" fill="#3a3d44" font-size="7.0" textLength="17" lengthAdjust="spacingAndGlyphs" stroke="#3a3d44" stroke-width="0.18">30.00</text><rect x="938" y="18.5" width="34" height="9" fill="#ef5350"/><text x="943.6" y="25.6" fill="#ffffff" font-size="7.0" textLength="24.3" lengthAdjust="spacingAndGlyphs" >1.22692</text><rect x="938" y="134.7" width="36" height="17.2" fill="#ef5350"/><text x="943.4" y="142.1" fill="#ffffff" font-size="7.0" textLength="24.2" lengthAdjust="spacingAndGlyphs" >1.17728</text><text x="943.4" y="150.1" fill="#ffffff" font-size="7.0" textLength="24.2" lengthAdjust="spacingAndGlyphs" >03:05:41</text><rect x="948.7" y="3.4" width="16.8" height="8.5" rx="1.5" fill="#fff" stroke="#d6d8de" stroke-width="0.8"/><text x="951.2" y="10.2" fill="#3a3d44" font-size="6.3" textLength="11.8" lengthAdjust="spacingAndGlyphs" >USD</text><line x1="19.6" y1="570.5" x2="19.6" y2="572.5" stroke="#7d8088" stroke-width="1"/><text x="19.6" y="580.9" fill="#3a3d44" font-size="6.4" text-anchor="middle" >May</text><line x1="76.69" y1="570.5" x2="76.69" y2="572.5" stroke="#7d8088" stroke-width="1"/><text x="76.69" y="580.9" fill="#3a3d44" font-size="6.4" text-anchor="middle" >18</text><line x1="128.59" y1="570.5" x2="128.59" y2="572.5" stroke="#7d8088" stroke-width="1"/><text x="128.59" y="580.9" fill="#3a3d44" font-size="6.4" text-anchor="middle" >Jun</text><line x1="180.49" y1="570.5" x2="180.49" y2="572.5" stroke="#7d8088" stroke-width="1"/><text x="180.49" y="580.9" fill="#3a3d44" font-size="6.4" text-anchor="middle" >15</text><line x1="242.77" y1="570.5" x2="242.77" y2="572.5" stroke="#7d8088" stroke-width="1"/><text x="242.77" y="580.9" fill="#3a3d44" font-size="6.4" text-anchor="middle" >Jul</text><line x1="310.24" y1="570.5" x2="310.24" y2="572.5" stroke="#7d8088" stroke-width="1"/><text x="310.24" y="580.9" fill="#3a3d44" font-size="6.4" text-anchor="middle" >20</text><line x1="362.14" y1="570.5" x2="362.14" y2="572.5" stroke="#7d8088" stroke-width="1"/><text x="362.14" y="580.9" fill="#3a3d44" font-size="6.4" text-anchor="middle" >Aug</text><line x1="471.13" y1="570.5" x2="471.13" y2="572.5" stroke="#7d8088" stroke-width="1"/><text x="471.13" y="580.9" fill="#3a3d44" font-size="6.4" text-anchor="middle" >Sep</text><line x1="517.84" y1="570.5" x2="517.84" y2="572.5" stroke="#7d8088" stroke-width="1"/><text x="517.84" y="580.9" fill="#3a3d44" font-size="6.4" text-anchor="middle" >14</text><line x1="585.31" y1="570.5" x2="585.31" y2="572.5" stroke="#7d8088" stroke-width="1"/><text x="585.31" y="580.9" fill="#3a3d44" font-size="6.4" text-anchor="middle" >Oct</text><line x1="647.59" y1="570.5" x2="647.59" y2="572.5" stroke="#7d8088" stroke-width="1"/><text x="647.59" y="580.9" fill="#3a3d44" font-size="6.4" text-anchor="middle" >19</text><line x1="699.49" y1="570.5" x2="699.49" y2="572.5" stroke="#7d8088" stroke-width="1"/><text x="699.49" y="580.9" fill="#3a3d44" font-size="6.4" text-anchor="middle" >Nov</text><line x1="751.39" y1="570.5" x2="751.39" y2="572.5" stroke="#7d8088" stroke-width="1"/><text x="751.39" y="580.9" fill="#3a3d44" font-size="6.4" text-anchor="middle" >16</text><line x1="808.48" y1="570.5" x2="808.48" y2="572.5" stroke="#7d8088" stroke-width="1"/><text x="808.48" y="580.9" fill="#3a3d44" font-size="6.4" text-anchor="middle" >Dec</text><line x1="855.19" y1="570.5" x2="855.19" y2="572.5" stroke="#7d8088" stroke-width="1"/><text x="855.19" y="580.9" fill="#3a3d44" font-size="6.4" text-anchor="middle" >14</text><line x1="922.66" y1="570.5" x2="922.66" y2="572.5" stroke="#7d8088" stroke-width="1"/><text x="922.66" y="580.9" fill="#3a3d44" font-size="6.4" text-anchor="middle" font-weight="bold">2021</text><rect x="398.9" y="570.6" width="40.9" height="13" fill="#ef5350"/><text x="404.5" y="580.9" fill="#ffffff" font-size="6.6" textLength="30.1" lengthAdjust="spacingAndGlyphs" >18 Aug &#39;20</text><g transform="translate(957,578.3)" fill="none" stroke="#4a4d56"><circle r="2.9" stroke-width="1.2"/><line x1="2.9" y1="0" x2="4.1" y2="0" stroke-width="1.3"/><line x1="2.05" y1="2.05" x2="2.9" y2="2.9" stroke-width="1.3"/><line x1="0" y1="2.9" x2="0" y2="4.1" stroke-width="1.3"/><line x1="-2.05" y1="2.05" x2="-2.9" y2="2.9" stroke-width="1.3"/><line x1="-2.9" y1="0" x2="-4.1" y2="0" stroke-width="1.3"/><line x1="-2.05" y1="-2.05" x2="-2.9" y2="-2.9" stroke-width="1.3"/><line x1="-0" y1="-2.9" x2="-0" y2="-4.1" stroke-width="1.3"/><line x1="2.05" y1="-2.05" x2="2.9" y2="-2.9" stroke-width="1.3"/></g><circle cx="920.1" cy="559.2" r="8" fill="#ffffff" stroke="#ebebee" stroke-width="0.8"/><path d="M917.2,556.3 L919.9,559.2 L917.2,562.1 M920.5,556.3 L923.2,559.2 L920.5,562.1" fill="none" stroke="#4a4d56" stroke-width="1.2"/><circle cx="11.8" cy="556.4" r="9" fill="#ffffff" stroke="#ececef" stroke-width="0.8"/><path d="M6,559.6 C6,557.6 7.5,556 9,554.6 C10,553.6 11,553.4 12,554.3 L13.8,555.9 C14.6,555.2 15.6,555.1 16.4,555.6 C17.8,556.4 18.4,558 18.3,559.6 Z" fill="#2f8ed0"/><path d="M7.2,558.6 L10.3,555.5 L13.2,558.4 L15.6,556.6" fill="none" stroke="#8fdcf8" stroke-width="0.9"/><rect x="0" y="0" width="380" height="15" fill="#fff"/><rect x="0" y="15" width="93" height="16.5" fill="#fff"/><text x="4.3" y="11.1" fill="#4b4e55" font-size="9.2" textLength="18" lengthAdjust="spacingAndGlyphs" stroke="#4b4e55" stroke-width="0.25">Euro</text><text x="26.9" y="11.1" fill="#4b4e55" font-size="9.2" textLength="2.5" lengthAdjust="spacingAndGlyphs" stroke="#4b4e55" stroke-width="0.25">/</text><text x="33.7" y="11.1" fill="#4b4e55" font-size="9.2" textLength="15.8" lengthAdjust="spacingAndGlyphs" stroke="#4b4e55" stroke-width="0.25">U.S.</text><text x="54.9" y="11.1" fill="#4b4e55" font-size="9.2" textLength="23.8" lengthAdjust="spacingAndGlyphs" stroke="#4b4e55" stroke-width="0.25">Dollar</text><text x="87.3" y="11.1" fill="#4b4e55" font-size="9.2" textLength="9.7" lengthAdjust="spacingAndGlyphs" stroke="#4b4e55" stroke-width="0.25">1D</text><text x="104.1" y="11.1" fill="#4b4e55" font-size="9.2" textLength="29.2" lengthAdjust="spacingAndGlyphs" stroke="#4b4e55" stroke-width="0.25">OANDA</text><circle cx="82.9" cy="7.9" r="0.7" fill="#9a9ca3"/><circle cx="100.6" cy="7.9" r="0.7" fill="#9a9ca3"/><circle cx="148.8" cy="8" r="3.9" fill="#dcf6f1"/><circle cx="148.8" cy="8" r="2.4" fill="#1e8a72"/><rect x="154.2" y="3.6" width="10.1" height="8.6" rx="2.6" fill="#fbd0df"/><path d="M157.1,6.9 C158,6 159,7.6 159.7,6.8 C160.4,6 161.4,7.4 162.2,6.6 M157.1,9.1 C158,8.2 159,9.8 159.7,9 C160.4,8.2 161.4,9.6 162.2,8.8" fill="none" stroke="#c4437c" stroke-width="1.1"/><text x="174.5" y="11.6" fill="#5d6067" font-size="8.4" textLength="5.4" lengthAdjust="spacingAndGlyphs" stroke="#5d6067" stroke-width="0.3">O</text><text x="180.2" y="11.6" fill="#e26a6a" font-size="8.3" textLength="25.2" lengthAdjust="spacingAndGlyphs" >1.17941</text><text x="210" y="11.6" fill="#5d6067" font-size="8.4" textLength="5.4" lengthAdjust="spacingAndGlyphs" stroke="#5d6067" stroke-width="0.3">H</text><text x="215.7" y="11.6" fill="#e26a6a" font-size="8.3" textLength="25.3" lengthAdjust="spacingAndGlyphs" >1.17944</text><text x="244.9" y="11.6" fill="#5d6067" font-size="8.4" textLength="5.4" lengthAdjust="spacingAndGlyphs" stroke="#5d6067" stroke-width="0.3">L</text><text x="250.6" y="11.6" fill="#e26a6a" font-size="8.3" textLength="24.7" lengthAdjust="spacingAndGlyphs" >1.17606</text><text x="278.7" y="11.6" fill="#5d6067" font-size="8.4" textLength="5.4" lengthAdjust="spacingAndGlyphs" stroke="#5d6067" stroke-width="0.3">C</text><text x="284.4" y="11.6" fill="#e26a6a" font-size="8.3" textLength="25.7" lengthAdjust="spacingAndGlyphs" >1.17728</text><text x="314.8" y="11.6" fill="#e26a6a" font-size="8.3" textLength="59" lengthAdjust="spacingAndGlyphs" >−0.00213 (−0.18%)</text><rect x="3.7" y="17.4" width="34.1" height="13" rx="2" fill="#fff" stroke="#e6a5a8" stroke-width="0.9"/><text x="8.3" y="27" fill="#cf7f85" font-size="8.4" textLength="20.5" lengthAdjust="spacingAndGlyphs" >1.1772</text><text x="30" y="25" fill="#cf7f85" font-size="5.5" textLength="2.2" lengthAdjust="spacingAndGlyphs" >1</text><text x="43.4" y="26.7" fill="#6a6d76" font-size="6.8" textLength="7.8" lengthAdjust="spacingAndGlyphs" >1.0</text><rect x="56.3" y="17.4" width="34.5" height="13" rx="2" fill="#fff" stroke="#86bde3" stroke-width="0.9"/><text x="61.4" y="27" fill="#6a95bb" font-size="8.4" textLength="20.5" lengthAdjust="spacingAndGlyphs" >1.1773</text><text x="83.3" y="25" fill="#6a95bb" font-size="5.5" textLength="2.2" lengthAdjust="spacingAndGlyphs" >1</text><text x="3.9" y="350.7" fill="#50535b" font-size="6.8" textLength="9.1" lengthAdjust="spacingAndGlyphs" >AO</text><text x="18" y="350.7" fill="#c0585e" font-size="6.9" textLength="29.7" lengthAdjust="spacingAndGlyphs" >−0.01828</text><text x="3.9" y="460.8" fill="#50535b" font-size="7.1" textLength="38.9" lengthAdjust="spacingAndGlyphs" >RSI 14 close</text><text x="47.7" y="460.8" fill="#9b5fb3" font-size="7.1" textLength="18.3" lengthAdjust="spacingAndGlyphs" >34.76</text>
</svg></body></html>
